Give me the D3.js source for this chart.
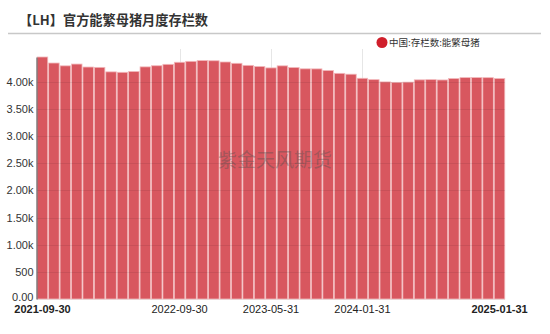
<!DOCTYPE html>
<html><head><meta charset="utf-8">
<script src="https://cdn.jsdelivr.net/npm/d3@7"></script>
<style>body{margin:0;background:#fff}svg{display:block}</style>
</head><body>
<script>
const title = "【LH】官方能繁母猪月度存栏数";
const seriesName = "中国:存栏数:能繁母猪";
const watermark = "紫金天风期货";
const dates = ["2021-09-30","2021-10-31","2021-11-30","2021-12-31","2022-01-31","2022-02-28","2022-03-31","2022-04-30","2022-05-31","2022-06-30","2022-07-31","2022-08-31","2022-09-30","2022-10-31","2022-11-30","2022-12-31","2023-01-31","2023-02-28","2023-03-31","2023-04-30","2023-05-31","2023-06-30","2023-07-31","2023-08-31","2023-09-30","2023-10-31","2023-11-30","2023-12-31","2024-01-31","2024-02-29","2024-03-31","2024-04-30","2024-05-31","2024-06-30","2024-07-31","2024-08-31","2024-09-30","2024-10-31","2024-11-30","2024-12-31","2025-01-31"];
const values = [4459,4348,4296,4329,4274,4268,4185,4177,4192,4277,4298,4324,4362,4379,4394,4390,4367,4343,4305,4284,4258,4296,4265,4241,4240,4210,4158,4142,4067,4042,4000,3992,3996,4038,4042,4036,4062,4079,4080,4078,4062];
const xTickLabels = ["2021-09-30","2022-09-30","2023-05-31","2024-01-31","2025-01-31"];
const boldTicks = ["2021-09-30","2025-01-31"];
const yTicks = [0,500,1000,1500,2000,2500,3000,3500,4000];

const W = 550, H = 334;
const m = {left:37, right:45, top:57, bottom:35};
const svg = d3.select("body").append("svg").attr("width",W).attr("height",H)
  .style("font-family","'Liberation Sans', Arial, sans-serif");

svg.append("text").attr("x",19).attr("y",25).text(title)
  .attr("font-family","'Noto Sans CJK SC', sans-serif").attr("font-weight","bold")
  .attr("font-size",13.2).attr("fill","#333");
svg.append("line").attr("x1",8).attr("x2",541).attr("y1",33.5).attr("y2",33.5)
  .attr("stroke","#c8c8c8").attr("stroke-width",1.5);

// legend
svg.append("circle").attr("cx",382).attr("cy",42.5).attr("r",5.5).attr("fill","#d01f2b");
svg.append("text").attr("x",389).attr("y",46).text(seriesName)
  .attr("font-family","'Noto Sans CJK SC', sans-serif").attr("font-size",9.5).attr("fill","#333");

const x = d3.scaleBand().domain(dates).range([m.left, W - m.right]).paddingInner(0.08).paddingOuter(0.02);
const y = d3.scaleLinear().domain([0, d3.max(values)]).range([H - m.bottom, m.top]);

// vertical grid
svg.append("g").selectAll("line").data(xTickLabels.slice(1,4)).enter().append("line")
  .attr("x1",d=>Math.round(x(d)+x.bandwidth()/2)+0.5).attr("x2",d=>Math.round(x(d)+x.bandwidth()/2)+0.5)
  .attr("y1",m.top-8).attr("y2",H-m.bottom).attr("stroke","#e6e6e6").attr("stroke-width",1);

// bars
svg.append("g").selectAll("rect").data(values).enter().append("rect")
  .attr("x",(d,i)=>x(dates[i])).attr("width",x.bandwidth())
  .attr("y",d=>y(d)).attr("height",d=>y(0)-y(d))
  .attr("fill","#d8575f").attr("stroke","#f2b8bb").attr("stroke-width",0.8);

// horizontal grid over bars
svg.append("g").selectAll("line").data(yTicks).enter().append("line")
  .attr("x1",m.left).attr("x2",W-m.right).attr("y1",d=>Math.round(y(d))+0.5).attr("y2",d=>Math.round(y(d))+0.5)
  .attr("stroke","rgba(0,0,0,0.07)");

// watermark
svg.append("text").attr("x",275).attr("y",167).attr("text-anchor","middle").text(watermark)
  .attr("font-family","'Noto Sans CJK SC', sans-serif").attr("font-size",19)
  .attr("fill","rgba(80,80,80,0.4)");

// y axis
const fmt = v => v===0 ? "0.00" : v<1000 ? String(v) : (v/1000).toFixed(2)+"k";
const yAxis = d3.axisLeft(y).tickValues(yTicks).tickFormat(fmt).tickSize(0).tickPadding(3);
const ya = svg.append("g").attr("transform",`translate(${m.left-0.5},0)`).call(yAxis);
ya.select(".domain").attr("stroke","#444");
ya.selectAll("text").attr("font-size",11).attr("fill","#333").attr("font-family","'Liberation Sans', Arial, sans-serif");
ya.selectAll(".tick").filter(d=>d===0).select("text").attr("dy","0.1em");

// x axis
const xAxis = d3.axisBottom(x).tickValues(xTickLabels).tickSize(0).tickPadding(6);
const xa = svg.append("g").attr("transform",`translate(0,${H-m.bottom})`).call(xAxis);
xa.select(".domain").remove();
xa.selectAll("text").attr("font-size",11).attr("fill","#222")
  .attr("font-family","'Liberation Sans', Arial, sans-serif")
  .attr("font-weight",d=>boldTicks.includes(d)?"bold":"normal");
</script>
</body></html>
